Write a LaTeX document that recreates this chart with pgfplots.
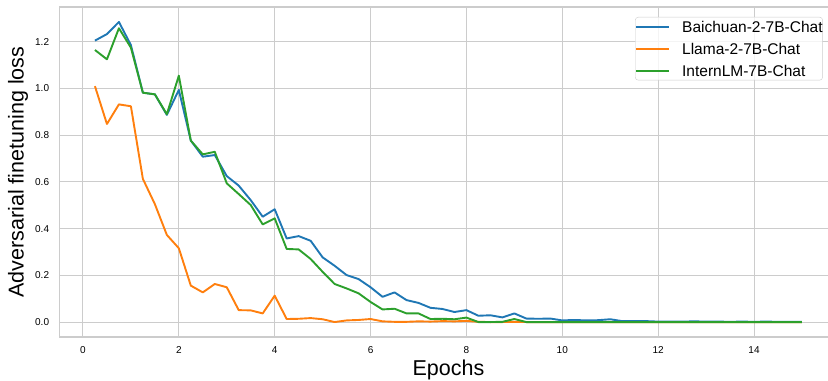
\documentclass[border=0pt]{standalone}
\usepackage{fontspec}
\setmainfont{Liberation Sans}
\usepackage{pgfplots}
\pgfplotsset{compat=1.18}
\usepackage{pgfplotstable}
\definecolor{tabblue}{HTML}{1F77B4}
\definecolor{taborange}{HTML}{FF7F0E}
\definecolor{tabgreen}{HTML}{2CA02C}
\definecolor{gridgray}{HTML}{CCCCCC}

\pgfplotstableread{
x y
0.25 1.205
0.5 1.233
0.75 1.285
1.0 1.186
1.25 0.982
1.5 0.975
1.75 0.887
2.0 0.994
2.25 0.777
2.5 0.708
2.75 0.715
3.0 0.625
3.25 0.584
3.5 0.522
3.75 0.451
4.0 0.483
4.25 0.358
4.5 0.368
4.75 0.348
5.0 0.277
5.25 0.241
5.5 0.201
5.75 0.184
6.0 0.149
6.25 0.108
6.5 0.127
6.75 0.094
7.0 0.082
7.25 0.061
7.5 0.056
7.75 0.043
8.0 0.051
8.25 0.027
8.5 0.029
8.75 0.020
9.0 0.037
9.25 0.015
9.5 0.014
9.75 0.015
10.0 0.007
10.25 0.009
10.5 0.007
10.75 0.008
11.0 0.012
11.25 0.004
11.5 0.004
11.75 0.004
12.0 0.002
12.25 0.002
12.5 0.002
12.75 0.003
13.0 0.002
13.25 0.002
13.5 0.001
13.75 0.002
14.0 0.001
14.25 0.002
14.5 0.001
14.75 0.001
15.0 0.001
}\baichuan

\pgfplotstableread{
x y
0.25 1.010
0.5 0.848
0.75 0.932
1.0 0.924
1.25 0.613
1.5 0.505
1.75 0.373
2.0 0.316
2.25 0.156
2.5 0.127
2.75 0.163
3.0 0.149
3.25 0.051
3.5 0.050
3.75 0.037
4.0 0.113
4.25 0.013
4.5 0.014
4.75 0.017
5.0 0.012
5.25 0.000
5.5 0.007
5.75 0.009
6.0 0.013
6.25 0.003
6.5 0.001
6.75 0.001
7.0 0.003
7.25 0.002
7.5 0.004
7.75 0.003
8.0 0.005
8.25 0.001
8.5 0.000
8.75 0.000
9.0 0.001
9.25 0.000
9.5 0.000
9.75 0.000
10.0 0.000
10.25 0.000
10.5 0.000
10.75 0.000
11.0 0.000
11.25 0.000
11.5 0.000
11.75 0.000
12.0 0.000
12.25 0.000
12.5 0.000
12.75 0.000
13.0 0.000
13.25 0.000
13.5 0.000
13.75 0.000
14.0 0.000
14.25 0.000
14.5 0.000
14.75 0.000
15.0 0.000
}\llama

\pgfplotstableread{
x y
0.25 1.165
0.5 1.125
0.75 1.258
1.0 1.175
1.25 0.982
1.5 0.975
1.75 0.890
2.0 1.055
2.25 0.777
2.5 0.718
2.75 0.729
3.0 0.594
3.25 0.548
3.5 0.501
3.75 0.418
4.0 0.444
4.25 0.313
4.5 0.311
4.75 0.270
5.0 0.215
5.25 0.163
5.5 0.144
5.75 0.123
6.0 0.086
6.25 0.054
6.5 0.057
6.75 0.037
7.0 0.037
7.25 0.013
7.5 0.014
7.75 0.012
8.0 0.019
8.25 0.000
8.5 0.000
8.75 0.001
9.0 0.013
9.25 0.000
9.5 0.000
9.75 0.000
10.0 0.000
10.25 0.000
10.5 0.000
10.75 0.000
11.0 0.000
11.25 0.000
11.5 0.000
11.75 0.000
12.0 0.000
12.25 0.000
12.5 0.000
12.75 0.000
13.0 0.000
13.25 0.000
13.5 0.000
13.75 0.000
14.0 0.000
14.25 0.000
14.5 0.000
14.75 0.000
15.0 0.000
}\internlm

\begin{document}
\begin{tikzpicture}
\useasboundingbox (0,0) rectangle (828bp,381bp);
\begin{axis}[
  at={(59.6bp,44bp)}, anchor=south west,
  scale only axis,
  width=777.7bp, height=330bp,
  xmin=-0.4875, xmax=15.7375,
  ymin=-0.064, ymax=1.349,
  xtick={0,2,...,14},
  ytick={0,0.2,0.4,0.6,0.8,1.0,1.2},
  /pgf/number format/assume math mode=true,
  yticklabel style={/pgf/number format/fixed, /pgf/number format/fixed zerofill, /pgf/number format/precision=1, font=\fontsize{10bp}{12bp}\selectfont, xshift=-7bp},
  xticklabel style={font=\fontsize{10bp}{12bp}\selectfont, yshift=-6bp},
  major tick length=0pt,
  grid=major,
  major grid style={draw=gridgray, line width=1bp},
  axis line style={draw=gridgray, line width=1.25bp},
  xlabel={Epochs},
  ylabel={Adversarial finetuning loss},
  label style={font=\fontsize{21.5bp}{25bp}\selectfont},
  xlabel style={at={(axis description cs:0.5,-0.1)}, anchor=center},
  ylabel style={at={(axis description cs:-0.0535,0.5)}, anchor=center, rotate=0},
  legend style={
    at={(rel axis cs:1,1)}, anchor=north east, xshift=-14.5bp, yshift=-10bp,
    font=\fontsize{15.5bp}{18bp}\selectfont,
    draw=gridgray, rounded corners=3bp, fill=white, fill opacity=0.8, text opacity=1,
    inner xsep=0bp, inner ysep=4bp,
    nodes={inner sep=0bp, text height=11bp, text depth=0bp},
    row sep=11bp,
    /tikz/every odd column/.append style={column sep=12bp},
  },
  legend cell align=left,
  legend image code/.code={\draw[#1] (0bp,0bp) -- (33bp,0bp);},
  every axis plot/.append style={line width=1.9bp, line join=round},
]
\addplot[tabblue] table[x=x,y=y] {\baichuan};
\addlegendentry{Baichuan-2-7B-Chat}
\addplot[taborange] table[x=x,y=y] {\llama};
\addlegendentry{Llama-2-7B-Chat}
\addplot[tabgreen] table[x=x,y=y] {\internlm};
\addlegendentry{InternLM-7B-Chat}
\end{axis}
\end{tikzpicture}
\end{document}
